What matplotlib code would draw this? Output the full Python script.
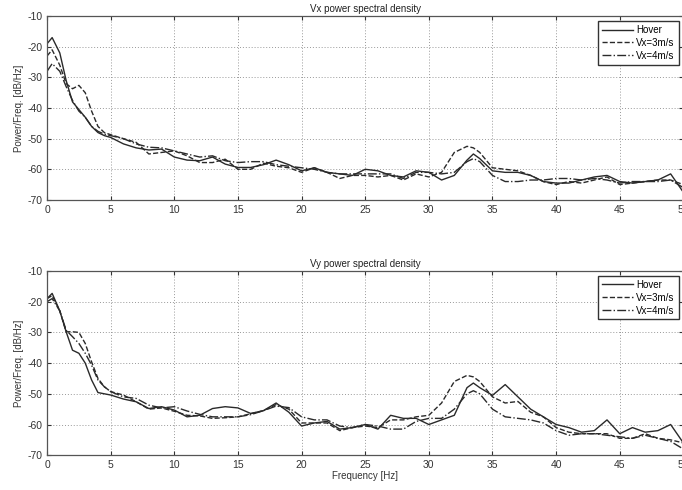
import matplotlib
matplotlib.use("Agg")
import matplotlib.pyplot as plt
import numpy as np

# Frequency grid shared by all PSD curves [Hz]
freq = [0, 0.4, 1, 1.5, 2, 2.5, 3, 3.5, 4, 4.5, 5,
        6, 7, 8, 9, 10, 11, 12, 13, 14, 15, 16,
        17, 18, 19, 20, 21, 22, 23, 24, 25, 26, 27, 28, 29, 30, 31, 32, 33,
        33.5,
        34, 35, 36, 37, 38, 39, 40, 41, 42, 43, 44, 45, 46, 47, 48, 49, 50]

series_labels = ["Hover", "Vx=3m/s", "Vx=4m/s"]

# Vx power spectral density [dB/Hz]
vx_hover = [-19, -17, -22, -31, -38, -40.5, -43, -46, -48, -49, -49.6,
            -51.7, -53, -53.7, -53.4, -56, -57, -57.2, -56, -58.3, -59.4, -59.4,
            -58.5, -57, -58.5, -60.5, -59.5, -61, -61.5, -62, -60, -60.5, -62, -62.5, -60.5, -61, -63.5, -62, -57,
            -55,
            -56.5, -60.5, -61, -61, -62, -64, -64.5, -64.5, -63.5, -62.5, -62, -64, -64.5, -64, -63.5, -61.5, -67.5]
vx_3ms = [-23, -21, -26, -32, -33.7, -32.6, -35, -41, -46, -48, -48.7,
          -50, -51.2, -55, -54.5, -54, -55.6, -57.8, -57.8, -56.7, -60, -60,
          -58, -59, -59.5, -61, -59.5, -61, -63, -62, -62, -62.5, -62, -63.5, -61.5, -62.5, -61, -54.5, -52.5,
          -53,
          -54.5, -59.5, -60, -60.5, -62, -64, -65, -64, -64.5, -63.5, -62.5, -65, -64.5, -64, -63.5, -63.5, -65]
vx_4ms = [-28, -25.5, -28, -33, -37.5, -41, -43, -46, -47.6, -48.5, -49,
          -50, -51.7, -52.8, -53, -54, -55, -56, -55.6, -57.2, -57.8, -57.5,
          -57.5, -58.5, -59, -59.5, -60, -61, -61.5, -61.5, -61.5, -61.5, -61.5, -63, -61, -61, -61.5, -61, -57.5,
          -56.5,
          -57.5, -62, -64, -64, -63.5, -63.5, -63, -63, -63.5, -63, -63.5, -64.5, -64, -64, -64, -63.5, -66]

# Vy power spectral density [dB/Hz]
vy_hover = [-19, -17.3, -23, -29.8, -35.8, -36.8, -40, -45.5, -49.6, -50, -50.4,
            -51.7, -52.6, -54.8, -54.2, -55.3, -57.5, -57, -54.8, -54.2, -54.6, -56.4,
            -55.5, -53, -56, -60.5, -59.5, -59, -61.5, -61, -60, -61.5, -57, -58, -58, -60, -58.5, -57, -48,
            -46.5,
            -48, -50.5, -47, -51, -55, -57.5, -60, -61, -62.5, -62, -58.5, -63, -61, -62.5, -62, -60, -66]
vy_3ms = [-19, -18, -23, -29.8, -29.8, -30, -33.6, -39.6, -45, -47.7, -49.3,
          -50.4, -52.6, -55, -54.6, -55.7, -57, -57.2, -58, -57.8, -57.5, -56.5,
          -55.5, -53.5, -55, -59.5, -59.5, -59.5, -62, -61, -60.5, -61, -58.5, -58.5, -57.5, -57, -53, -46, -44,
          -44.5,
          -46, -51, -53, -52.5, -56, -57.5, -61, -62.5, -63, -63, -63, -64.5, -64.5, -63, -64.5, -65, -66]
vy_4ms = [-20, -19, -23, -29.3, -31.4, -33.6, -36.8, -40.7, -45.5, -47.7, -49.3,
          -51, -51.5, -53.7, -54.6, -54.2, -55.6, -56.7, -57.5, -57.5, -57.5, -56.8,
          -55.5, -54, -54.5, -57.5, -58.5, -58.5, -60.5, -61, -60, -60.5, -61.5, -61.5, -59, -58, -58, -55, -50,
          -49,
          -50, -55, -57.5, -58, -58.5, -59.5, -62, -63.5, -63, -63, -63.5, -64, -64.5, -63.5, -64.5, -65.5, -68]

plt.rcParams['font.family'] = ['Liberation Sans Narrow', 'Liberation Sans', 'DejaVu Sans']
plt.rcParams['font.size'] = 7.5
plt.rcParams['axes.unicode_minus'] = False

line_styles = ['-', '--', '-.']
line_color = '#2a2a2a'

fig = plt.figure(figsize=(6.82, 4.90), dpi=100)
ax_top = fig.add_axes([0.069, 0.592, 0.933, 0.375])
ax_bot = fig.add_axes([0.069, 0.071, 0.933, 0.376])


def draw_psd(ax, curves, title):
    for values, style, label in zip(curves, line_styles, series_labels):
        ax.plot(freq, values, linestyle=style, color=line_color, linewidth=1.0, label=label)
    ax.set_xlim(0, 50)
    ax.set_ylim(-70, -10)
    ax.set_xticks(np.arange(0, 51, 5))
    ax.set_yticks(np.arange(-70, -9, 10))
    ax.grid(True, linestyle=(0, (1, 2)), color='#999999', linewidth=0.7)
    ax.tick_params(direction='in', top=True, right=True, length=3, colors='#333333', labelsize=7.5)
    for spine in ax.spines.values():
        spine.set_color('#555555')
        spine.set_linewidth(0.9)
    ax.set_title(title, fontsize=7, pad=3, color='#222222')
    ax.set_ylabel('Power/Freq. [dB/Hz]', fontsize=7, color='#333333', labelpad=2)
    leg = ax.legend(loc='upper right', fontsize=7, handlelength=3.2, handletextpad=0.3,
                    borderpad=0.4, labelspacing=0.3, fancybox=False, framealpha=1,
                    borderaxespad=0.5)
    leg.get_frame().set_edgecolor('#333333')
    leg.get_frame().set_linewidth(1.0)


draw_psd(ax_top, [vx_hover, vx_3ms, vx_4ms], 'Vx power spectral density')
draw_psd(ax_bot, [vy_hover, vy_3ms, vy_4ms], 'Vy power spectral density')
ax_bot.set_xlabel('Frequency [Hz]', fontsize=7, color='#333333', labelpad=1)

fig.savefig('out.png', dpi=100)
